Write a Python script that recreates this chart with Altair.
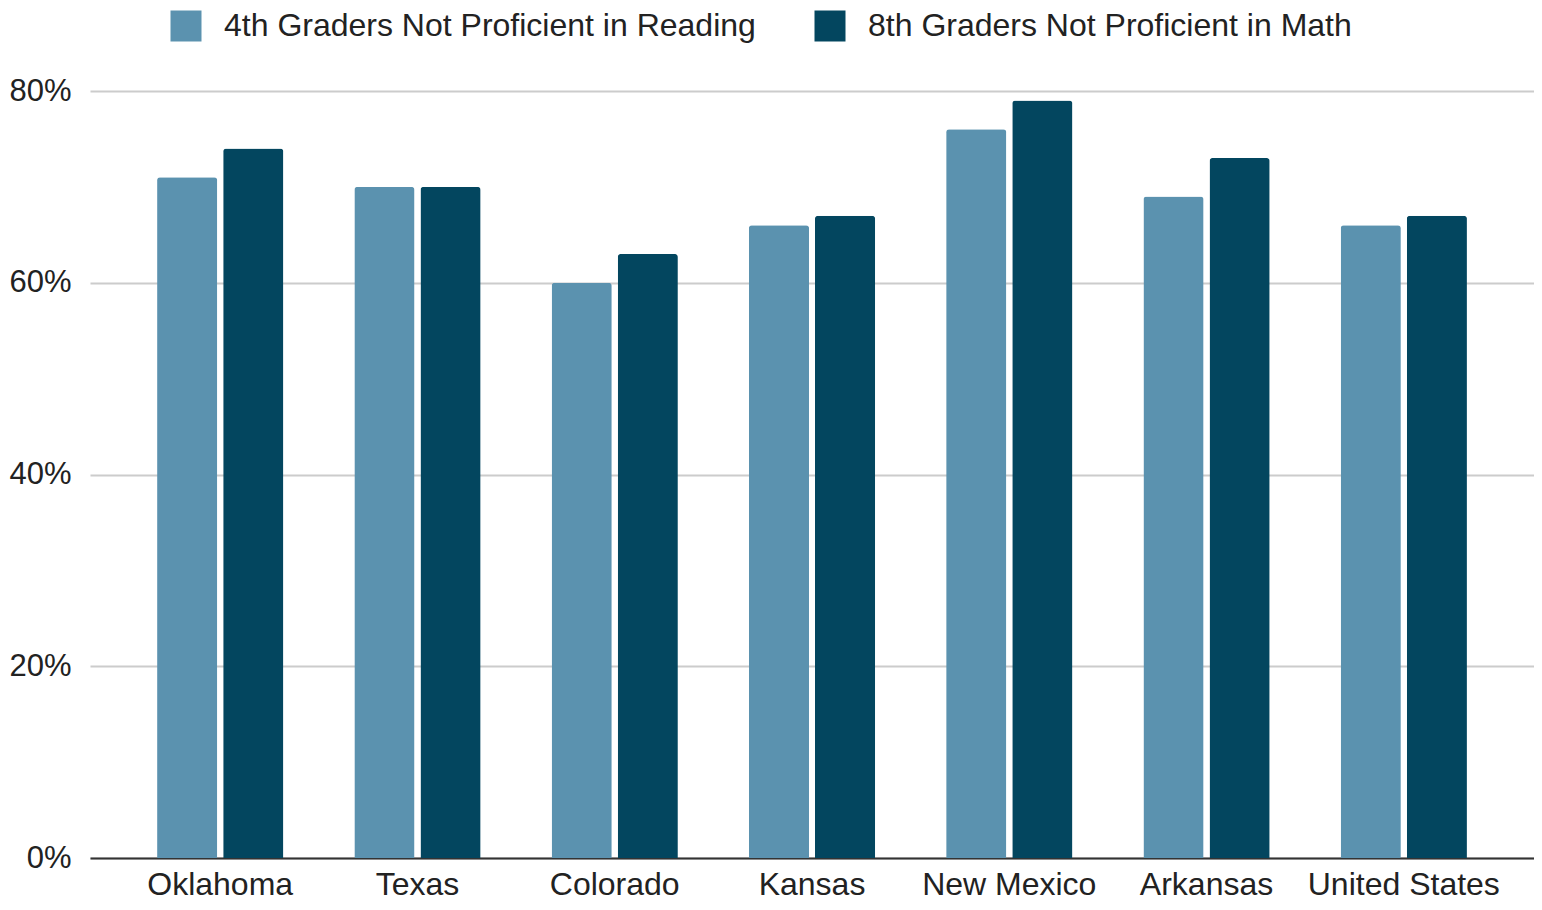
import altair as alt
import pandas as pd

states = ["Oklahoma", "Texas", "Colorado", "Kansas", "New Mexico", "Arkansas", "United States"]
reading = [71, 70, 60, 66, 76, 69, 66]
math = [74, 70, 63, 67, 79, 73, 67]
series = ["4th Graders Not Proficient in Reading", "8th Graders Not Proficient in Math"]
colors = ["#5b92af", "#03465f"]

rows = []
for s, r, m in zip(states, reading, math):
    rows.append({"state": s, "series": series[0], "value": r / 100})
    rows.append({"state": s, "series": series[1], "value": m / 100})
df = pd.DataFrame(rows)

FONT = "Liberation Sans"
FS = 32

chart = alt.Chart(df).mark_bar(cornerRadiusTopLeft=3, cornerRadiusTopRight=3).encode(
    x=alt.X("state:N", sort=states, title=None,
            scale=alt.Scale(paddingInner=0.36, paddingOuter=0.34),
            axis=alt.Axis(labelAngle=0, labelFontSize=FS, labelFont=FONT, labelColor="#222",
                          labelBaseline="alphabetic", labelPadding=36, labelLimit=0,
                          ticks=False, domainColor="#333", domainWidth=2)),
    xOffset=alt.XOffset("series:N", sort=series,
                        scale=alt.Scale(paddingInner=0.09, paddingOuter=0)),
    y=alt.Y("value:Q", title=None,
            scale=alt.Scale(domain=[0, 0.8], nice=False),
            axis=alt.Axis(values=[0, 0.2, 0.4, 0.6, 0.8], format=".0%", labelFontSize=31,
                          labelFont=FONT, labelColor="#222", labelPadding=19, ticks=False,
                          domain=False, gridColor="#cccccc", gridWidth=2)),
    color=alt.Color("series:N", sort=series,
                    scale=alt.Scale(domain=series, range=colors),
                    legend=alt.Legend(title=None, orient="none", direction="horizontal",
                                      legendX=80, legendY=-81, symbolType="square",
                                      symbolSize=961, symbolStrokeWidth=0, symbolOpacity=1,
                                      labelFontSize=32, labelFont=FONT, labelColor="#222",
                                      labelLimit=0, labelOffset=22, columnPadding=58, padding=0)),
).properties(
    width=1444, height=767,
    autosize=alt.AutoSizeParams(type="none"),
    padding={"left": 82, "top": 83, "right": 0, "bottom": 44},
).configure_view(stroke=None)

chart.save("out.html", embed_options={"renderer": "svg", "actions": False})
